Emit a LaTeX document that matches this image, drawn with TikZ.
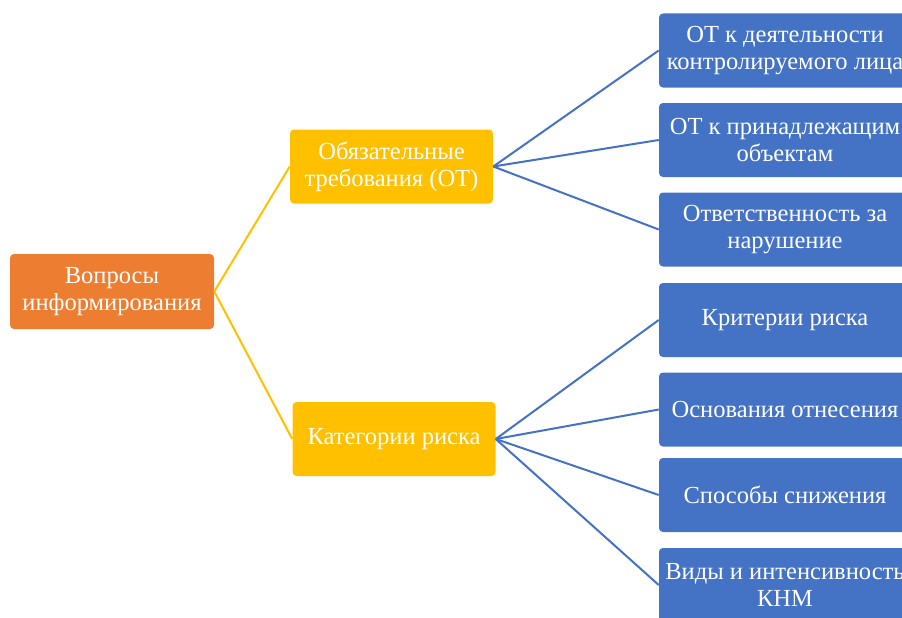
\documentclass[tikz,border=0pt]{standalone}
\usepackage{fontspec}
\setmainfont{Liberation Serif}
\definecolor{rootc}{HTML}{ED7D31}
\definecolor{midc}{HTML}{FFC000}
\definecolor{leafc}{HTML}{4472C4}
\begin{document}
\begin{tikzpicture}[x=0.75pt,y=-0.75pt,
  box/.style={rectangle, rounded corners=3pt, text=white, align=center,
    font=\fontsize{18.4}{20}\selectfont, inner sep=0pt},
  rootbox/.style={box, fill=rootc, minimum width=204*0.75pt, minimum height=75*0.75pt},
  midbox/.style={box, fill=midc, minimum width=203*0.75pt, minimum height=74*0.75pt},
  leafbox/.style={box, fill=leafc, minimum width=252*0.75pt, minimum height=74*0.75pt},
  ylink/.style={draw=midc, line width=1.5pt},
  blink/.style={draw=leafc, line width=1.5pt}]
\useasboundingbox (0,0) rectangle (902,617);
\node[rootbox] (root) at (112,291.5) {Вопросы\\информирования};
\node[midbox] (ot) at (391.5,166.5) {Обязательные\\требования (ОТ)};
\node[midbox] (kr) at (394,439) {Категории риска};
\node[leafbox] (b1) at (785,50.5) {ОТ к деятельности\\контролируемого лица};
\node[leafbox] (b2) at (785,140) {ОТ к принадлежащим\\объектам};
\node[leafbox] (b3) at (785,229.5) {Ответственность за\\нарушение};
\node[leafbox] (b4) at (785,320) {Критерии риска};
\node[leafbox] (b5) at (785,409.5) {Основания отнесения};
\node[leafbox] (b6) at (785,495) {Способы снижения};
\node[leafbox] (b7) at (785,585) {Виды и интенсивность\\КНМ};
\draw[ylink] (root.east) -- (ot.west);
\draw[ylink] (root.east) -- (kr.west);
\foreach \b in {b1,b2,b3} \draw[blink] (ot.east) -- (\b.west);
\foreach \b in {b4,b5,b6,b7} \draw[blink] (kr.east) -- (\b.west);
\end{tikzpicture}
\end{document}
